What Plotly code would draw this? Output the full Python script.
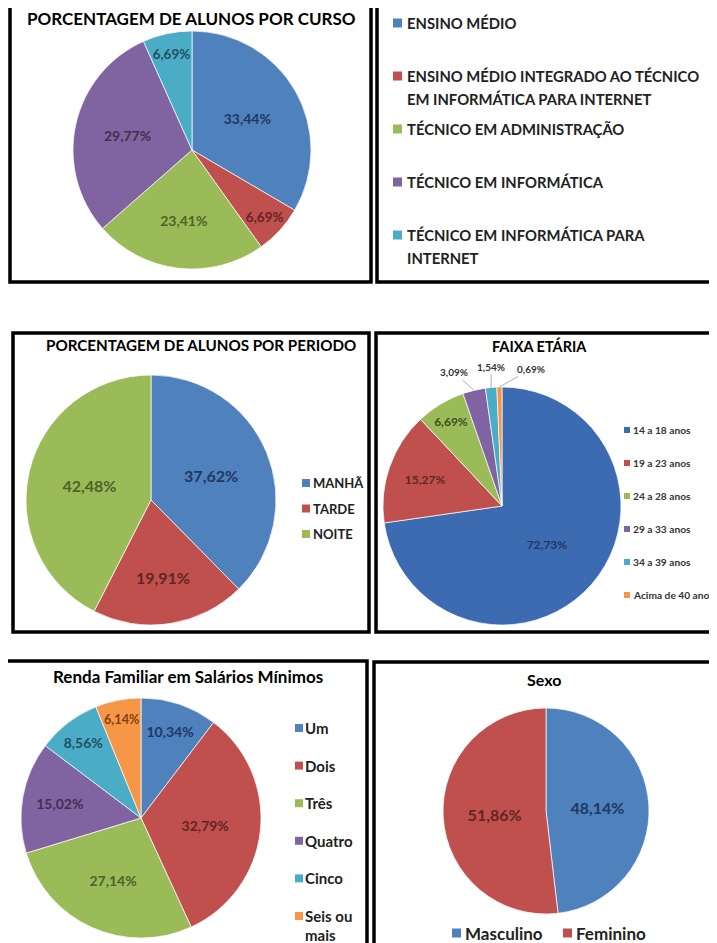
import math
import plotly.graph_objects as go

# page body has an 8px margin, so the figure is drawn 8px smaller and shifted
OFF = 8
W, H = 717 - OFF, 943 - OFF
FONT = "Lato, Roboto, sans-serif"

# ---------------- data ----------------
curso_labels = ["ENSINO MÉDIO",
                "ENSINO MÉDIO INTEGRADO AO TÉCNICO EM INFORMÁTICA PARA INTERNET",
                "TÉCNICO EM ADMINISTRAÇÃO",
                "TÉCNICO EM INFORMÁTICA",
                "TÉCNICO EM INFORMÁTICA PARA INTERNET"]
curso_legend_text = [["ENSINO MÉDIO"],
                     ["ENSINO MÉDIO INTEGRADO AO TÉCNICO", "EM INFORMÁTICA PARA INTERNET"],
                     ["TÉCNICO EM ADMINISTRAÇÃO"],
                     ["TÉCNICO EM INFORMÁTICA"],
                     ["TÉCNICO EM INFORMÁTICA PARA", "INTERNET"]]
curso_values = [33.44, 6.69, 23.41, 29.77, 6.69]

periodo_labels = ["MANHÃ", "TARDE", "NOITE"]
periodo_values = [37.62, 19.91, 42.48]

faixa_labels = ["14 a 18 anos", "19 a 23 anos", "24 a 28 anos",
                "29 a 33 anos", "34 a 39 anos", "Acima de 40 anos"]
faixa_values = [72.73, 15.27, 6.69, 3.09, 1.54, 0.69]

renda_labels = ["Um", "Dois", "Três", "Quatro", "Cinco", "Seis ou mais"]
renda_legend_text = [["Um"], ["Dois"], ["Três"], ["Quatro"], ["Cinco"], ["Seis ou", "mais"]]
renda_values = [10.34, 32.79, 27.14, 15.02, 8.56, 6.14]

sexo_labels = ["Masculino", "Feminino"]
sexo_values = [48.14, 51.86]

titles = ["PORCENTAGEM DE ALUNOS POR CURSO",
          "PORCENTAGEM DE ALUNOS POR PERIODO",
          "FAIXA ETÁRIA",
          "Renda Familiar em Salários Mínimos",
          "Sexo"]

# ---------------- styles ----------------
COLORS = ["#4F81BD", "#C0504D", "#9BBB59", "#8064A2", "#4BACC6", "#F79646"]
DARK = ["#1F3864", "#632523", "#4F6228", "#3F3151", "#1F4F5F", "#7F3F0F"]


def X(px):
    return (px - OFF) / W


def Y(py):
    return 1 - (py - OFF) / H


def fmt(v):
    return f"{v:.2f}".replace(".", ",") + "%"


fig = go.Figure()


def add_pie(values, labels, cx, cy, r, fsize, colors=None, tcolors=None, show=None):
    colors = colors or COLORS[:len(values)]
    tcolors = tcolors or DARK[:len(values)]
    show = show or [True] * len(values)
    fig.add_trace(go.Pie(
        values=values, labels=labels, sort=False, direction="clockwise", rotation=0,
        domain=dict(x=[X(cx - r), X(cx + r)], y=[Y(cy + r), Y(cy - r)]),
        marker=dict(colors=colors, line=dict(color="rgba(255,255,255,0.7)", width=1)),
        text=[fmt(v) if s else "" for v, s in zip(values, show)], textinfo="text",
        textposition="inside",
        insidetextorientation="horizontal",
        textfont=dict(family=FONT, size=fsize, color=tcolors, weight="bold"),
        hoverinfo="label+percent", showlegend=False, automargin=False,
    ))


shapes = []
annotations = []

# pies
add_pie(curso_values, curso_labels, 192, 150, 119, 14)
add_pie(periodo_values, periodo_labels, 151, 500, 125, 16)

# faixa etaria: large slices labelled inside, tiny slices labelled outside with leader lines
FX, FY, FR = 502, 506, 119
faixa_colors = ["#3D6BB2", "#C0504D", "#9BBB59", "#8064A2", "#4BACC6", "#F79646"]
add_pie(faixa_values, faixa_labels, FX, FY, FR, 12, colors=faixa_colors,
        tcolors=["#1F3864", "#632523", "#3B4E1E", "#333", "#333", "#333"],
        show=[True, True, True, False, False, False])
total = sum(faixa_values)
cum = 0.0
label_offsets = {3: (-20, -18), 4: (0, -21), 5: (32, -18)}
for i, v in enumerate(faixa_values):
    mid = (cum + v / 2) / total * 2 * math.pi
    cum += v
    if i in label_offsets:
        ex = FX + FR * math.sin(mid)
        ey = FY - FR * math.cos(mid)
        ax, ay = label_offsets[i]
        annotations.append(dict(text=f"<b>{fmt(v)}</b>", x=X(ex), y=Y(ey), xref="paper", yref="paper",
                                ax=ax, ay=ay, showarrow=True, arrowhead=0, arrowwidth=0.8,
                                arrowcolor="#999999", standoff=0,
                                font=dict(family=FONT, size=10, color="#333333")))

add_pie(renda_values, renda_labels, 141, 818, 120, 14)
add_pie(sexo_values, sexo_labels, 546, 811, 103, 16)

# boxes
boxes = [(10, 5, 371, 282), (377, 5, 722, 282),
         (13, 333, 369, 632), (376, 333, 722, 632),
         (4, 661, 367, 950), (374, 662, 722, 950)]
for x0, y0, x1, y1 in boxes:
    shapes.append(dict(type="rect", xref="paper", yref="paper",
                       x0=X(x0), x1=X(x1), y0=Y(y1), y1=Y(y0),
                       line=dict(color="black", width=3.5), layer="above"))

# titles
title_pos = [(191, 19, 17), (201, 345, 15.2), (539, 346, 14.5), (188, 676, 17), (544, 679, 16)]
for t, (tx, ty, fs) in zip(titles, title_pos):
    annotations.append(dict(text=f"<b>{t}</b>", x=X(tx), y=Y(ty), xref="paper", yref="paper",
                            xanchor="center", yanchor="middle", showarrow=False,
                            font=dict(family=FONT, size=fs, color="black")))


def legend(items, colors, mx, tx, ys, msize, fsize, line_gap, tcolor="#222222"):
    for lines, c, y in zip(items, colors, ys):
        shapes.append(dict(type="rect", xref="paper", yref="paper",
                           x0=X(mx), x1=X(mx + msize), y0=Y(y + msize / 2), y1=Y(y - msize / 2),
                           fillcolor=c, line=dict(width=0)))
        for i, ln in enumerate(lines):
            annotations.append(dict(text=f"<b>{ln}</b>", x=X(tx), y=Y(y + i * line_gap),
                                    xref="paper", yref="paper", xanchor="left", yanchor="middle",
                                    showarrow=False,
                                    font=dict(family=FONT, size=fsize, color=tcolor)))


legend(curso_legend_text, COLORS, 393, 405, [23 + i * 53 for i in range(5)], 9, 14.8, 23)
legend([[l] for l in periodo_labels], COLORS, 302, 311, [483 + i * 25.5 for i in range(3)], 8, 13, 0)
legend([[l] for l in faixa_labels], faixa_colors, 624, 631,
       [430 + i * 33 for i in range(6)], 6, 10.2, 0, tcolor="#333333")
legend(renda_legend_text, COLORS, 295, 303, [728 + i * 37.6 for i in range(6)], 8, 15, 18.5)

# sexo legend (horizontal)
for lab, c, mx in zip(sexo_labels, COLORS[:2], [452, 563]):
    shapes.append(dict(type="rect", xref="paper", yref="paper",
                       x0=X(mx), x1=X(mx + 9), y0=Y(933 + 4.5), y1=Y(933 - 4.5),
                       fillcolor=c, line=dict(width=0)))
    annotations.append(dict(text=f"<b>{lab}</b>", x=X(mx + 11), y=Y(933), xref="paper", yref="paper",
                            xanchor="left", yanchor="middle", showarrow=False,
                            font=dict(family=FONT, size=17, color="#222222")))

fig.update_layout(width=W, height=H, margin=dict(l=0, r=0, t=0, b=0),
                  paper_bgcolor="white", plot_bgcolor="white",
                  shapes=shapes, annotations=annotations, showlegend=False)

fig.write_html("out.html")
